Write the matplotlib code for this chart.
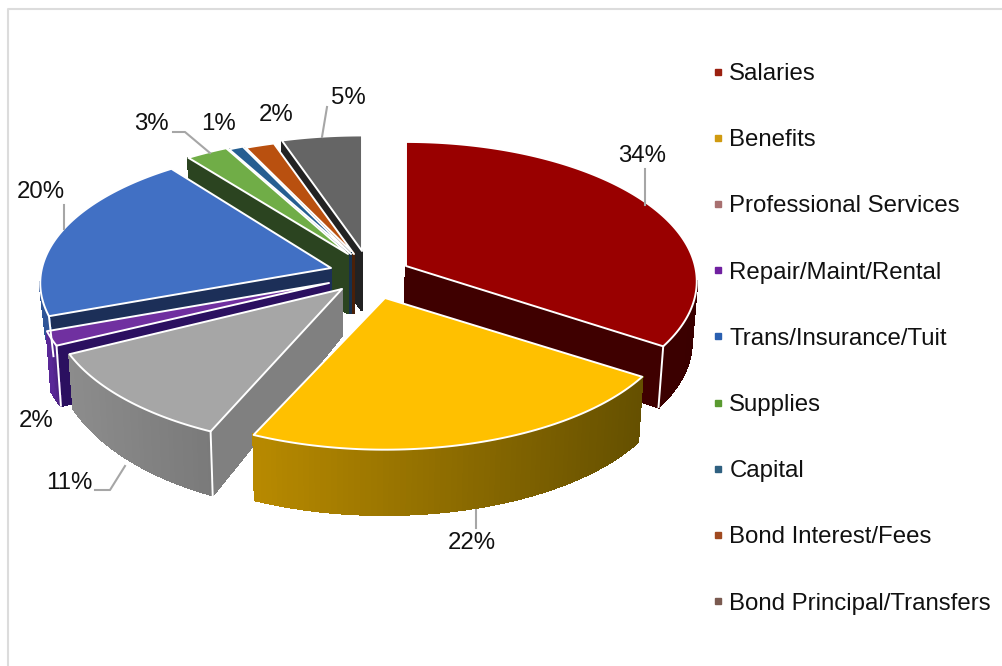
import numpy as np
import matplotlib
matplotlib.use("Agg")
import matplotlib.pyplot as plt
from matplotlib.lines import Line2D
from matplotlib.colors import to_rgb

plt.rcParams['font.family'] = ['Liberation Sans', 'DejaVu Sans']

# ---- data ----
categories = ["Salaries", "Benefits", "Professional Services", "Repair/Maint/Rental",
              "Trans/Insurance/Tuit", "Supplies", "Capital", "Bond Interest/Fees",
              "Bond Principal/Transfers"]
shares = [34.2, 22.45, 11.0, 1.7, 20.3, 2.6, 0.9, 1.8, 4.95]

# ---- style ----
top_colors = ["#990000", "#ffc000", "#a6a6a6", "#7030a0", "#4170c4", "#70ad47", "#255e91", "#b9500f", "#656565"]
radial_colors = ["#3f0000", "#6b5200", "#808080", "#2b1060", "#1c2f58", "#2b4420", "#16304c", "#4a2008", "#222222"]
arc_left = ["#4a0000", "#b88a00", "#8c8c8c", "#5c2a9c", "#2f5597", "#2b4420", "#16304c", "#4a2008", "#222222"]
arc_right = ["#3a0000", "#655000", "#7a7a7a", "#4a2080", "#2f5597", "#2b4420", "#16304c", "#4a2008", "#222222"]
legend_colors = ["#9b2010", "#d09a10", "#a87070", "#7020a0", "#2a5fb0", "#5a9a30", "#2f6080", "#a04a20", "#7a5a50"]

# ---- layout (pixels) ----
RX, RY, PERSP = 289.0, 135.0, 0.11
CONVERGE_X, CONVERGE = 350.0, 0.015
explode_at = [(406, 266), (385, 298), (342, 289), (329, 283), (331, 268),
              (348, 254), (351, 254), (354, 254), (362, 251)]
ry_scale = [1.02, 1.0, 1.04, 1.0, 1.0, 0.97, 0.96, 0.95, 0.95]
depth = [60, 65, 46, 60, 40, 59, 59, 59, 59]
depth_slope = [0.02, 0.0, 0.42, 0.0, 0.0, 0.0, 0.0, 0.0, 0.0]
draw_order = [8, 7, 6, 5, 4, 3, 2, 0, 1]
label_xy = [(642, 156), (472, 543), (69, 483), (36, 421), (41, 192),
            (151, 124), (219, 124), (276, 115), (348, 98)]
leaders = [[(645, 169), (645, 205)], [(476, 510), (476, 528)],
           [(125, 466), (110, 490), (95, 490)], [], [(64, 205), (64, 229)],
           [(173, 132), (185, 132), (210, 153)], [], [], [(327, 107), (322, 137)]]

fig = plt.figure(figsize=(10.02, 6.66), dpi=100)
ax = fig.add_axes([0, 0, 1, 1])
ax.set_xlim(0, 1002)
ax.set_ylim(666, 0)
ax.axis("off")

# chart frame
ax.plot([8, 8, 1001], [666, 9, 9], color="#dcdcdc", lw=1.5, zorder=0)


def project(i, th):
    X, Y = np.sin(th), np.cos(th)
    w = 1 + PERSP * Y
    return explode_at[i][0] + RX * X / w, explode_at[i][1] - RY * ry_scale[i] * Y / w, Y


def drop(i, x, y, Y):
    d = depth[i] * (1 - depth_slope[i] * Y)
    return x - (x - CONVERGE_X) * CONVERGE, y + d


fr = np.array(shares) / np.sum(shares)
edges = np.concatenate([[0], np.cumsum(fr)]) * 2 * np.pi

for i in draw_order:
    ths = np.linspace(edges[i], edges[i + 1], max(6, int(fr[i] * 360)))
    ax_, ay_, aY = project(i, ths)
    ax0, ay0 = explode_at[i]
    # (x, y, Y) outline, clockwise on screen, apex first
    xs = np.r_[ax0, ax_]
    ys = np.r_[ay0, ay_]
    Ys = np.r_[0.0, aY]
    xmin, xmax = ax_.min(), ax_.max()
    visible = []
    for j in range(len(xs)):
        k = (j + 1) % len(xs)
        if xs[k] - xs[j] < 0:
            visible.append(j)
            bx0, by0 = drop(i, xs[j], ys[j], Ys[j])
            bx1, by1 = drop(i, xs[k], ys[k], Ys[k])
            if j == 0 or j == len(xs) - 1:
                col = radial_colors[i]
            else:
                t = (xs[j] - xmin) / max(xmax - xmin, 1)
                col = tuple((1 - t) * np.array(to_rgb(arc_left[i])) + t * np.array(to_rgb(arc_right[i])))
            ax.fill([xs[j], xs[k], bx1, bx0], [ys[j], ys[k], by1, by0],
                    facecolor=col, edgecolor=col, lw=1.2, antialiased=False)
    # white vertical edges where two visible side faces meet
    for c, (prev, nxt) in {1: (0, 1), len(xs) - 1: (len(xs) - 2, len(xs) - 1)}.items():
        if prev in visible and nxt in visible:
            bx, by = drop(i, xs[c], ys[c], Ys[c])
            ax.plot([xs[c], bx], [ys[c], by], color="white", lw=1.4)
    ax.fill(xs, ys, facecolor=top_colors[i], edgecolor="white", lw=1.4, joinstyle="round")

# leader lines and labels
for pts in leaders:
    if pts:
        ax.plot(*zip(*pts), color="#a6a6a6", lw=1.5)
for v, (x, y) in zip(shares, label_xy):
    ax.text(x, y, f"{round(v)}%", ha="center", va="center", fontsize=17.3, color="#111111")

handles = [Line2D([], [], ls="", marker="s", ms=4.4, color=c) for c in legend_colors]
ax.legend(handles, categories, loc="upper left", bbox_to_anchor=(701 / 1002, 1 - 63 / 666),
          frameon=False, fontsize=17.3, labelspacing=1.84, handletextpad=-0.22,
          handlelength=1.4, borderpad=0, borderaxespad=0, labelcolor="#111111")

fig.savefig("out.png", dpi=100)
